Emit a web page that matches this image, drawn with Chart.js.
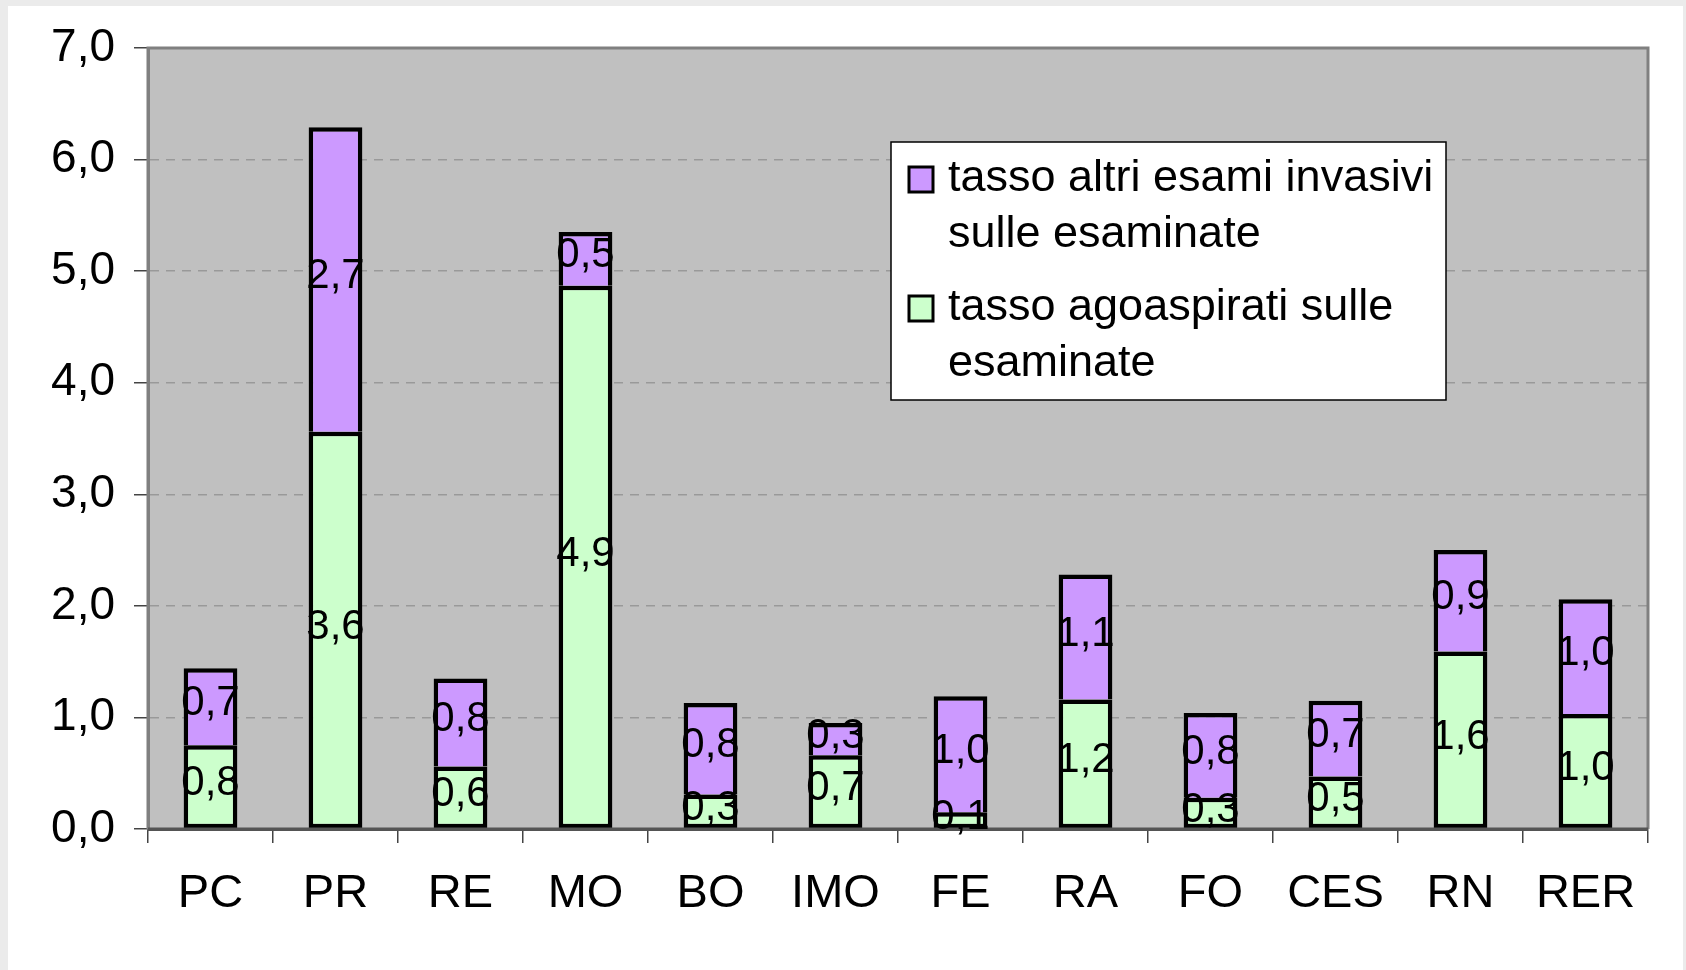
<!DOCTYPE html>
<html>
<head>
<meta charset="utf-8">
<script src="https://cdn.jsdelivr.net/npm/chart.js@4.4.0/dist/chart.umd.min.js"></script>
<style>
  body { margin: 0; background: #ebebeb; }
  #wrap { position: absolute; left: 0; top: 0; width: 1686px; height: 970px; }
  #sheet { position: absolute; left: 8px; top: 6px; width: 1675px; height: 964px; background: #fff; }
</style>
</head>
<body>
<div id="sheet"></div>
<div id="wrap"><canvas id="chart" width="1686" height="970"></canvas></div>
<script>
// categories and series
const provinces = ['PC', 'PR', 'RE', 'MO', 'BO', 'IMO', 'FE', 'RA', 'FO', 'CES', 'RN', 'RER'];
const agoaspirati = [0.75, 3.56, 0.56, 4.87, 0.31, 0.66, 0.15, 1.16, 0.28, 0.47, 1.59, 1.03];
const altriEsami = [0.69, 2.73, 0.79, 0.48, 0.82, 0.29, 1.04, 1.12, 0.76, 0.68, 0.91, 1.03];
const yTicks = [0, 1, 2, 3, 4, 5, 6, 7];

const legendLines = [
  { color: '#CC99FF', lines: ['tasso altri esami invasivi', 'sulle esaminate'] },
  { color: '#CCFFCC', lines: ['tasso agoaspirati sulle', 'esaminate'] }
];

const FONT = '"Liberation Sans", Arial, sans-serif';
const fmt = v => v.toFixed(1).replace('.', ',');

// grey plot background + frame
const plotBg = {
  id: 'plotBg',
  beforeDraw(chart) {
    const { ctx, chartArea: a } = chart;
    ctx.save();
    ctx.fillStyle = '#C0C0C0';
    ctx.fillRect(a.left, a.top, a.right - a.left, a.bottom - a.top);
    ctx.restore();
  },
  afterDatasetsDraw(chart) {
    const { ctx, chartArea: a } = chart;
    ctx.save();
    ctx.setLineDash([]);
    ctx.strokeStyle = '#808080';
    ctx.lineWidth = 3;
    ctx.beginPath();
    ctx.moveTo(a.left, a.bottom);
    ctx.lineTo(a.left, a.top);
    ctx.lineTo(a.right, a.top);
    ctx.lineTo(a.right, a.bottom);
    ctx.stroke();
    ctx.strokeStyle = '#555';
    ctx.beginPath();
    ctx.moveTo(a.left, a.bottom);
    ctx.lineTo(a.right, a.bottom);
    ctx.stroke();
    ctx.restore();
  }
};

// value labels centred in each segment
const segLabels = {
  id: 'segLabels',
  afterDatasetsDraw(chart) {
    const { ctx } = chart;
    ctx.save();
    ctx.font = '42px ' + FONT;
    ctx.fillStyle = '#000';
    ctx.textAlign = 'center';
    ctx.textBaseline = 'middle';
    chart.data.datasets.forEach((ds, i) => {
      chart.getDatasetMeta(i).data.forEach((bar, j) => {
        const p = bar.getProps(['x', 'y', 'base'], true);
        ctx.fillText(fmt(ds.data[j]), p.x, (p.y + p.base) / 2 - 3);
      });
    });
    ctx.restore();
  }
};

// boxed two-line legend inside the plot
const boxLegend = {
  id: 'boxLegend',
  afterDraw(chart) {
    const { ctx, chartArea: a } = chart;
    const x = a.left + 743, y = a.top + 94, w = 555, h = 258;
    ctx.save();
    ctx.setLineDash([]);
    ctx.fillStyle = '#fff';
    ctx.fillRect(x, y, w, h);
    ctx.strokeStyle = '#000';
    ctx.lineWidth = 1.5;
    ctx.strokeRect(x, y, w, h);
    ctx.font = '45px ' + FONT;
    ctx.textBaseline = 'middle';
    ctx.textAlign = 'left';
    const rows = [[37, 93], [166, 222]];
    legendLines.forEach((item, i) => {
      const cy = y + rows[i][0];
      ctx.fillStyle = item.color;
      ctx.fillRect(x + 18, cy - 12, 24, 25);
      ctx.lineWidth = 3;
      ctx.strokeRect(x + 18, cy - 12, 24, 25);
      ctx.fillStyle = '#000';
      ctx.fillText(item.lines[0], x + 57, cy);
      ctx.fillText(item.lines[1], x + 57, y + rows[i][1]);
    });
    ctx.restore();
  }
};

new Chart(document.getElementById('chart'), {
  type: 'bar',
  data: {
    labels: provinces,
    datasets: [
      {
        label: 'tasso agoaspirati sulle esaminate',
        data: agoaspirati,
        backgroundColor: '#CCFFCC',
        borderColor: '#000',
        borderWidth: 4.5,
        borderSkipped: false,
        barPercentage: 0.43,
        categoryPercentage: 1
      },
      {
        label: 'tasso altri esami invasivi sulle esaminate',
        data: altriEsami,
        backgroundColor: '#CC99FF',
        borderColor: '#000',
        borderWidth: 4.5,
        borderSkipped: 'start',
        barPercentage: 0.43,
        categoryPercentage: 1
      }
    ]
  },
  options: {
    responsive: false,
    animation: false,
    devicePixelRatio: 1,
    layout: { padding: { left: 0, top: 48, right: 38, bottom: 0 } },
    plugins: {
      legend: { display: false },
      tooltip: { enabled: false }
    },
    scales: {
      x: {
        stacked: true,
        afterFit(s) { s.height = 141; },
        grid: {
          offset: true,
          drawOnChartArea: false,
          color: '#444',
          tickLength: 14,
          lineWidth: 1.5
        },
        border: { color: '#555', width: 3 },
        ticks: {
          color: '#000',
          padding: 23,
          font: { family: FONT, size: 47 }
        }
      },
      y: {
        stacked: true,
        min: 0,
        max: 7,
        afterFit(s) { s.width = 148; },
        afterBuildTicks(s) { s.ticks = yTicks.map(v => ({ value: v })); },
        grid: {
          color: c => (c.tick && (c.tick.value === 0 || c.tick.value === 7)) ? 'rgba(0,0,0,0)' : '#999',
          lineWidth: 1.5,
          tickBorderDash: [],
          tickColor: '#444',
          tickLength: 14
        },
        border: { color: '#808080', width: 3, dash: [9, 7] },
        ticks: {
          color: '#000',
          padding: 19,
          font: { family: FONT, size: 46 },
          callback: v => fmt(v)
        }
      }
    }
  },
  plugins: [plotBg, segLabels, boxLegend]
});
</script>
</body>
</html>
